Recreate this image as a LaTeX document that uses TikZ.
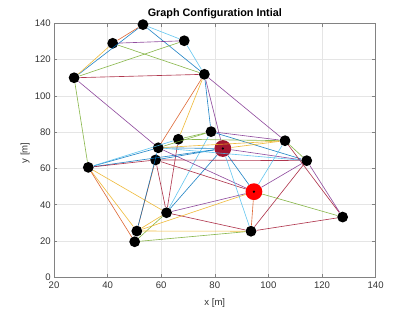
\documentclass[tikz,border=0pt]{standalone}
\usepackage{fontspec}
\setmainfont{Liberation Sans}
\usetikzlibrary{positioning}

\definecolor{mblue}{RGB}{0,114,189}
\definecolor{morange}{RGB}{217,83,25}
\definecolor{myellow}{RGB}{237,177,32}
\definecolor{mpurple}{RGB}{126,47,142}
\definecolor{mgreen}{RGB}{119,172,48}
\definecolor{mcyan}{RGB}{77,190,238}
\definecolor{mred}{RGB}{162,20,47}
\definecolor{axgray}{RGB}{130,130,130}

\tikzset{
  mote/.style={circle,fill=black,inner sep=0pt,minimum size=0.27cm},
  sink/.style={circle,inner sep=0pt,minimum size=0.42cm},
  link/.style={line width=0.45pt,opacity=0.85},
  ticklbl/.style={text=black!80,inner sep=1pt}
}

\begin{document}
\begin{tikzpicture}[x=0.067cm,y=0.04535cm,font=\fontsize{6.8}{8}\selectfont]
\useasboundingbox (-0.15,-19.13) rectangle (154.7,152.87);
% grid
\foreach \x in {40,60,...,120} \draw[black!10] (\x,0)--(\x,140);
\foreach \y in {20,40,...,120} \draw[black!10] (20,\y)--(140,\y);
% axes box and ticks
\draw[axgray,line width=0.5pt] (20,0) rectangle (140,140);
\foreach \x in {20,40,...,140} {
  \draw[axgray] (\x,0)--(\x,2);
  \draw[axgray] (\x,140)--(\x,138);
  \node[ticklbl,below] (xt\x) at (\x,-1.3) {\x};
}
\foreach \y in {0,20,...,140} {
  \draw[axgray] (20,\y)--(21.2,\y);
  \draw[axgray] (140,\y)--(138.8,\y);
  \node[ticklbl,left] (yt\y) at (19.4,\y) {\y};
}
\node[text=black!80] (xlab) at (80,-14.2) {x [m]};
\node[text=black!80,rotate=90] (ylab) at (9.2,68.5) {y [m]};
\node[font=\fontsize{7.7}{9}\selectfont\bfseries] (title) at (80,145.3) {Graph Configuration Intial};

% nodes
\foreach \i/\px/\py in {1/53.2/139.3, 2/41.9/129, 3/68.6/130.4, 4/27.5/110,
  5/76.1/111.9, 6/78.6/80.3, 7/66.4/76.1, 8/58.9/71.4, 9/57.9/64.7,
  10/32.8/60.6, 11/62/35.6, 12/50.9/25.5, 13/50.1/19.6, 15/106.2/75.3,
  16/114.3/64.3, 18/127.7/33.2, 19/93.5/25.4}
  \node[mote] (n\i) at (\px,\py) {};
\node[sink,fill=mred] (n14) at (83,71) {};
\node[sink,fill=red] (n17) at (94.6,47.2) {};
\fill (n14) circle (0.9pt);
\fill (n17) circle (0.9pt);

% links
\foreach \a/\b/\c in {4/1/mblue, 4/2/myellow, 2/1/morange, 1/3/mcyan, 1/5/mblue,
  2/3/mpurple, 2/5/mgreen, 4/3/mgreen, 3/5/mcyan, 4/5/mred, 4/8/mpurple,
  4/10/mgreen, 5/8/morange, 5/7/myellow, 5/6/mblue, 5/14/mpurple, 5/15/mpurple,
  10/8/mblue, 10/7/mcyan, 10/14/mblue, 10/9/mred, 10/11/myellow, 10/12/myellow,
  10/13/morange, 9/12/morange, 8/12/mblue, 9/11/mred, 7/11/mred, 6/11/mcyan,
  14/11/mblue, 11/12/myellow, 11/13/mgreen, 11/17/mpurple, 11/19/mred,
  12/17/myellow, 12/19/myellow, 13/19/mgreen, 9/17/mred, 8/17/mpurple,
  9/16/mred, 8/14/mblue, 7/6/mgreen, 8/6/mgreen, 9/14/mblue, 6/15/mpurple,
  6/16/mblue, 14/15/myellow, 14/16/mpurple, 14/17/mblue, 15/17/mcyan,
  15/18/mred, 15/16/mgreen, 16/17/mpurple, 16/18/mpurple, 16/19/mred,
  17/18/mgreen, 17/19/morange, 19/18/mred, 14/19/mcyan, 7/15/mgreen,
  8/15/myellow, 8/16/mcyan}
  \draw[link,\c] (n\a)--(n\b);
\end{tikzpicture}
\end{document}
